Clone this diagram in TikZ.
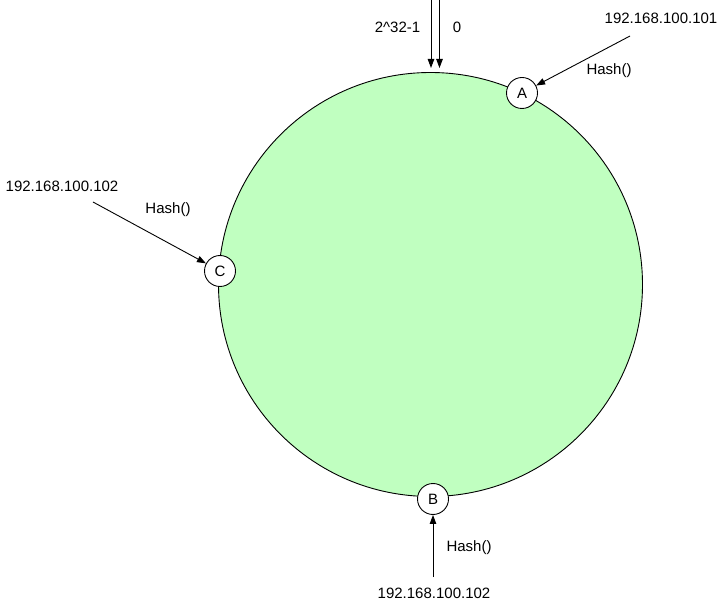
\documentclass[tikz,border=0pt]{standalone}
\usepackage{fontspec}
\setmainfont{Liberation Sans}
\usetikzlibrary{arrows.meta}
\definecolor{ringgreen}{RGB}{192,255,192}
\begin{document}
\begin{tikzpicture}[x=1pt,y=-1pt,
  lbl/.style={font=\fontsize{15}{17}\selectfont, inner sep=0pt},
  vnode/.style={circle, draw=black, fill=white, line width=0.9pt, minimum size=31pt, inner sep=0pt, font=\fontsize{15}{17}\selectfont},
  conn/.style={draw=black, line width=0.9pt, -{Triangle[length=9pt,width=6.5pt]}}
]
\useasboundingbox (0,0) rectangle (723,609);
\node[circle, draw=black, fill=ringgreen, line width=0.9pt, minimum size=424pt, inner sep=0pt] (ring) at (430.5,284.5) {};

\coordinate (s1) at (431,0);
\coordinate (e1) at (431,68);
\coordinate (s2) at (439.5,0);
\coordinate (e2) at (439.5,68);
\draw[conn] (s1) -- (e1);
\draw[conn] (s2) -- (e2);
\node[lbl] (lmax) at (397.5,27) {2\^{}32-1};
\node[lbl] (lzero) at (457,27) {0};

\node[vnode] (A) at (522,93) {A};
\node[vnode] (C) at (220,271) {C};
\node[vnode] (B) at (433,499) {B};

\node[lbl] (ipA) at (661,18) {192.168.100.101};
\node[lbl] (hA) at (609,71) {Hash()};
\coordinate (sA) at (630,36);
\draw[conn] (sA) -- (A);

\node[lbl] (ipC) at (62,186) {192.168.100.102};
\node[lbl] (hC) at (168,210) {Hash()};
\coordinate (sC) at (93,202);
\draw[conn] (sC) -- (C);

\node[lbl] (ipB) at (434,593) {192.168.100.102};
\node[lbl] (hB) at (469,548) {Hash()};
\coordinate (sB) at (433,577);
\draw[conn] (sB) -- (B);
\end{tikzpicture}
\end{document}
